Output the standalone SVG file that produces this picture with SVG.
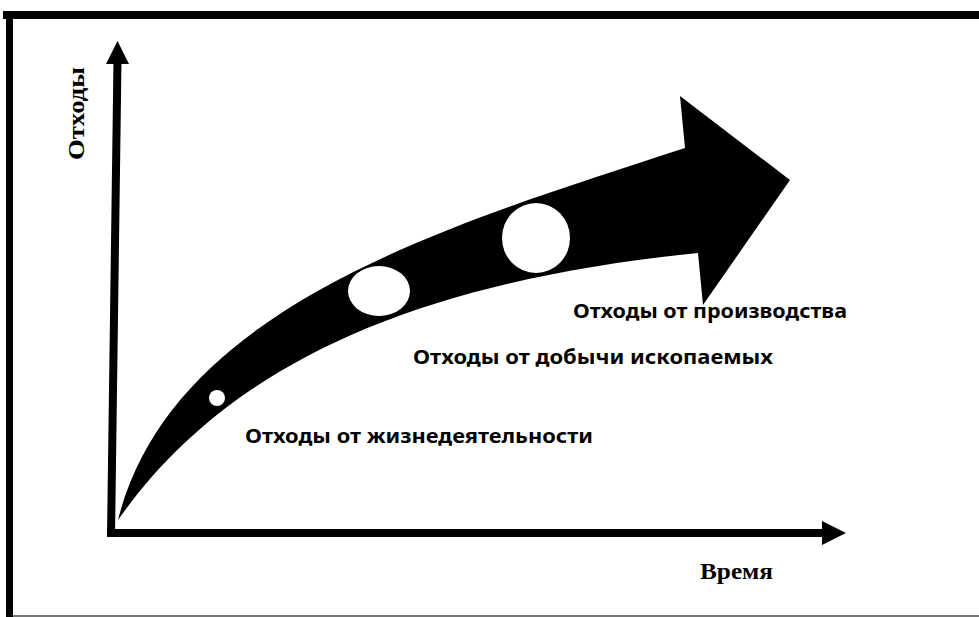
<svg xmlns="http://www.w3.org/2000/svg" width="979" height="617" viewBox="0 0 979 617">
  <style>
    .lbl { font-family: "Noto Sans", "Open Sans", "Liberation Sans", sans-serif; font-weight: bold; font-size: 19px; fill: #000; }
    .axl { font-family: "Liberation Serif", "DejaVu Serif", serif; font-weight: bold; font-size: 23px; fill: #000; }
    .axis { stroke: #000; stroke-width: 8; fill: none; }
  </style>
  <rect width="979" height="617" fill="#fff"/>
  <g id="frame">
    <rect x="3" y="11" width="976" height="8" fill="#000"/>
    <rect x="6" y="11" width="7" height="606" fill="#000"/>
    <line x1="13" y1="616" x2="979" y2="616" stroke="#777" stroke-width="2"/>
  </g>
  <g id="connectors">
    <g id="y-axis">
      <line class="axis" x1="111" y1="537" x2="117.5" y2="60"/>
      <polygon points="117.5,41 129,64 106,64" fill="#000"/>
    </g>
    <g id="x-axis">
      <line class="axis" x1="107" y1="533" x2="826" y2="533"/>
      <polygon points="846,533 822,521 822,545" fill="#000"/>
    </g>
  </g>
  <g id="growth-arrow">
    <path d="M118,520 C172,305 450,225 685,148 L680,96 L790,180 L703,305 L698,253 C400,283 222,372 118,520 Z" fill="#000"/>
    <circle cx="217" cy="398" r="8" fill="#fff"/>
    <ellipse cx="379" cy="291" rx="31" ry="25" fill="#fff"/>
    <ellipse cx="536" cy="238" rx="34" ry="35" fill="#fff"/>
  </g>
  <g id="label-production">
    <text class="lbl" x="573" y="318" textLength="274" lengthAdjust="spacingAndGlyphs">Отходы от производства</text>
  </g>
  <g id="label-mining">
    <text class="lbl" x="413" y="364" textLength="360" lengthAdjust="spacingAndGlyphs">Отходы от добычи ископаемых</text>
  </g>
  <g id="label-life">
    <text class="lbl" x="245" y="443" textLength="348" lengthAdjust="spacingAndGlyphs">Отходы от жизнедеятельности</text>
  </g>
  <g id="label-y">
    <text class="axl" transform="translate(84,160) rotate(-90)" x="0" y="0" textLength="93" lengthAdjust="spacingAndGlyphs">Отходы</text>
  </g>
  <g id="label-x">
    <text class="axl" x="700" y="579" textLength="73" lengthAdjust="spacingAndGlyphs">Время</text>
  </g>
</svg>
